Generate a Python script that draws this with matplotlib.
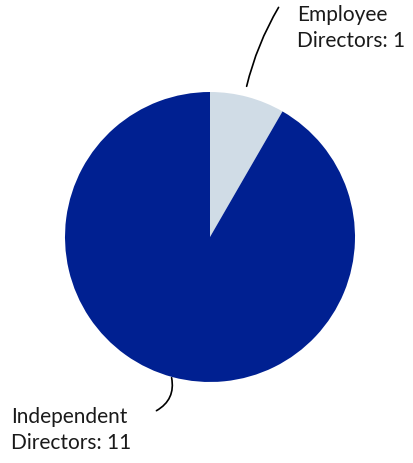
import matplotlib.pyplot as plt

plt.rcParams['font.family'] = ['Lato', 'DejaVu Sans']

labels = ['Employee\nDirectors: 1', 'Independent\nDirectors: 11']
values = [1, 11]
colors = ['#d0dce6', '#002091']

W, H = 413, 463
fig = plt.figure(figsize=(W / 100, H / 100), dpi=100)
ax = fig.add_axes([0, 0, 1, 1])

ax.pie(values, colors=colors, startangle=90, counterclock=False,
       center=(210, H - 237), radius=145, frame=True)
ax.set_xlim(0, W)
ax.set_ylim(0, H)
ax.set_aspect('equal')
ax.axis('off')

# labels with curved leader lines
ax.text(297, H - 5, labels[0], ha='left', va='top', fontsize=15,
        color='#1a1a1a', linespacing=1.4)
ax.annotate('', xy=(246, H - 89), xytext=(280, H - 5),
            arrowprops=dict(arrowstyle='-', color='black', lw=1.2,
                            connectionstyle='arc3,rad=0.08'))

ax.text(11, H - 407, labels[1], ha='left', va='top', fontsize=15,
        color='#1a1a1a', linespacing=1.4)
ax.annotate('', xy=(171, H - 375), xytext=(154, H - 412),
            arrowprops=dict(arrowstyle='-', color='black', lw=1.2,
                            connectionstyle='arc3,rad=0.4'))

fig.savefig('out.png', dpi=100)
